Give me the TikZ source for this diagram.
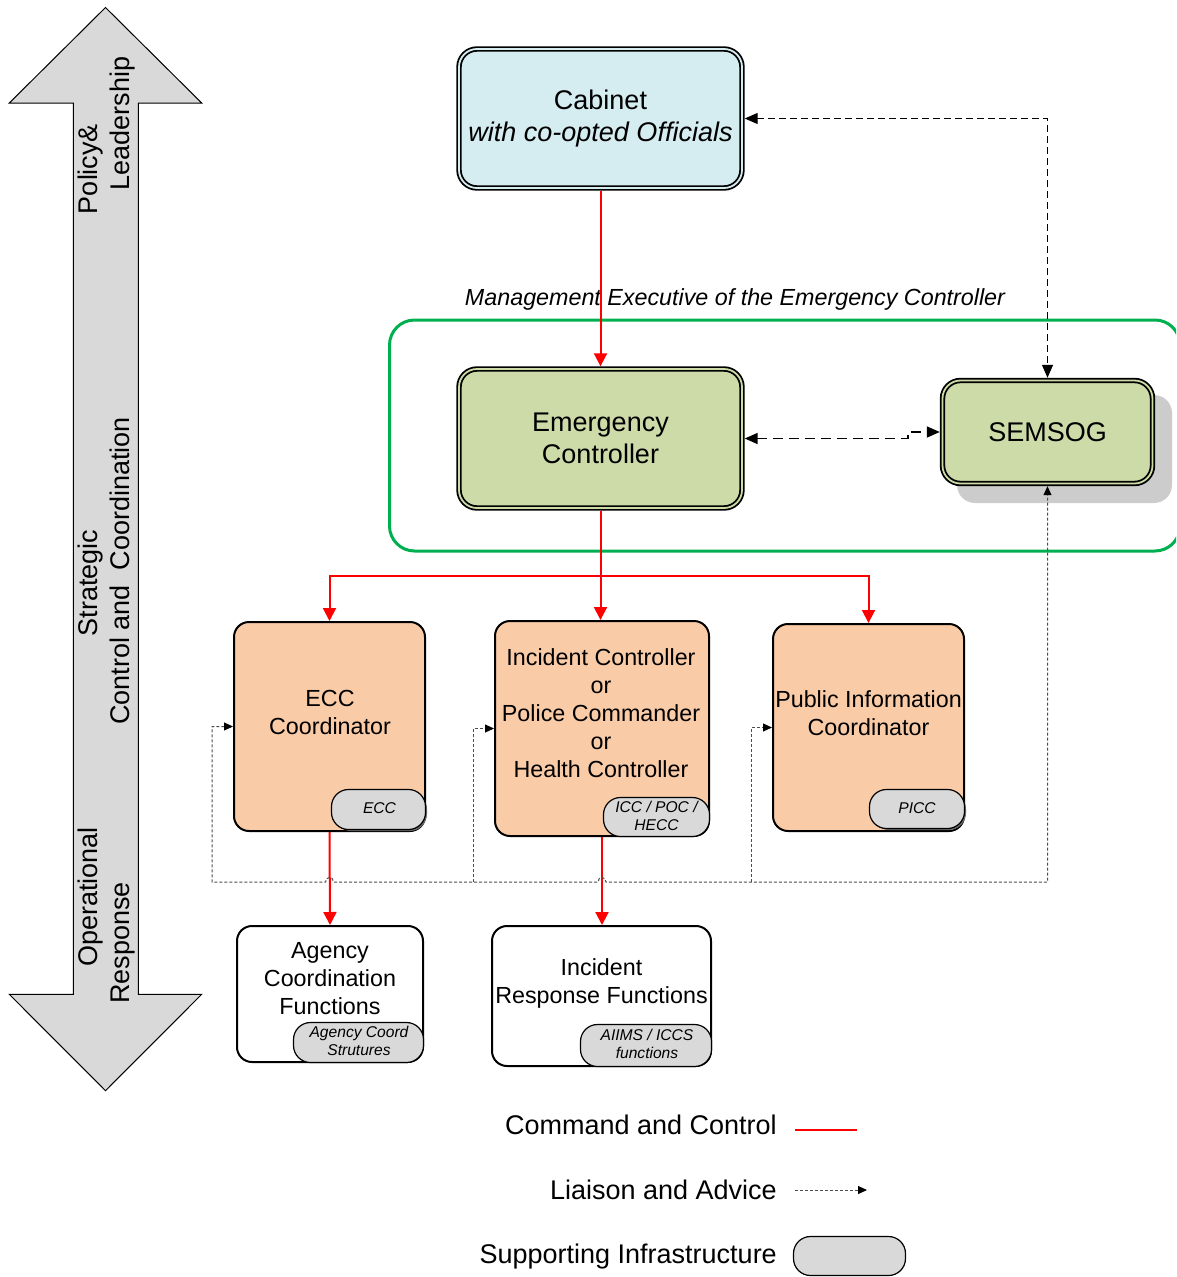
\documentclass[tikz,border=0pt]{standalone}
\usepackage{fontspec}
\setmainfont{Liberation Sans}
\usetikzlibrary{arrows.meta}
\definecolor{cabblue}{HTML}{D5ECF1}
\definecolor{emgreen}{HTML}{CCDBA8}
\definecolor{peach}{HTML}{F9CBA7}
\definecolor{taggray}{HTML}{D9D9D9}
\definecolor{arrowgray}{HTML}{D9D9D9}
\definecolor{mgreen}{HTML}{00B050}
\definecolor{shadowgray}{HTML}{CCCCCC}
\definecolor{dotgray}{HTML}{4D4D4D}
\begin{document}
\begin{tikzpicture}[x=1pt,y=-1pt,
  bigfont/.style={font=\fontsize{27}{32}\selectfont},
  boxfont/.style={font=\fontsize{23.3}{28}\selectfont},
  tagfont/.style={font=\fontsize{15.6}{18.5}\selectfont\itshape},
  dbox/.style={draw=black, line width=1.8pt, double distance=1.8pt, rounded corners=18pt, outer sep=2.7pt, inner sep=0pt, align=center, bigfont},
  pbox/.style={draw=black, line width=2pt, fill=peach, rounded corners=15pt, inner sep=0pt},
  wbox/.style={draw=black, line width=2pt, fill=white, rounded corners=15pt, inner sep=0pt},
  tagbox/.style={draw=black, line width=1.2pt, fill=taggray, rounded corners=17pt, inner sep=0pt},
  lbl/.style={inner sep=0pt, align=center},
  vlbl/.style={inner sep=0pt, bigfont, rotate=90, anchor=base},
  cmd/.style={draw=red, line width=2pt},
  cmdtip/.style={-{Triangle[length=13pt,width=13pt]}},
  cmdtips/.style={{Triangle[length=13pt,width=13pt]}-{Triangle[length=13pt,width=13pt]}},
  liaisonA/.style={draw=black, line width=1.2pt, dash pattern=on 7pt off 4pt, {Triangle[length=13pt,width=11pt]}-{Triangle[length=13pt,width=11pt]}},
  liaisonB/.style={draw=black, line width=1.6pt, dash pattern=on 10pt off 6pt, {Triangle[length=13pt,width=11pt]}-{Triangle[length=13pt,width=11pt]}},
  liai/.style={draw=dotgray, line width=1pt, dash pattern=on 3pt off 2pt},
  liaione/.style={liai, -{Triangle[length=9pt,width=8pt,color=black]}},
  liaiboth/.style={liai, {Triangle[length=9pt,width=8pt,color=black]}-{Triangle[length=9pt,width=8pt,color=black]}}
]
\useasboundingbox (0,0) rectangle (1176,1277);

% left double arrow
\draw[fill=arrowgray, line width=1pt] (105.5,7.5) -- (201.7,103) -- (138.3,103) -- (138.3,994.3) -- (201.7,994.3) -- (105.5,1090.7) -- (9.3,994.3) -- (73.3,994.3) -- (73.3,103) -- (9.3,103) -- cycle;
\node[vlbl] (v1) at (97,169) {Policy\&};
\node[vlbl] (v2) at (129,123.5) {Leadership};
\node[vlbl] (v3) at (97,583) {Strategic};
\node[vlbl] (v4) at (129,571) {Control and~~Coordination};
\node[vlbl] (v5) at (97,897) {Operational};
\node[vlbl] (v6) at (129,943) {Response};

% green management frame
\begin{scope}
\clip (0,0) rectangle (1176,1277);
\draw[mgreen, line width=3pt, rounded corners=25pt] (389.5,320) rectangle (1180,551);
\end{scope}
\node[lbl, font=\fontsize{23.3}{28}\selectfont\itshape, anchor=base] (mgmt) at (735,305.5) {Management Executive of the Emergency Controller};

% top boxes
\node[dbox, fill=cabblue, double=cabblue, minimum width=283pt, minimum height=139pt] (cab) at (600.5,118.5) {Cabinet\\\textit{with co-opted Officials}};
\node[dbox, fill=emgreen, double=emgreen, minimum width=283pt, minimum height=139pt] (emc) at (600.5,438.5) {Emergency\\Controller};
\fill[shadowgray, rounded corners=18pt] (957,395) rectangle (1172,503);
\node[dbox, fill=emgreen, double=emgreen, minimum width=210pt, minimum height=103pt] (sem) at (1047.5,432) {SEMSOG};

% middle boxes
\node[pbox, minimum width=191pt, minimum height=209pt] (ecc) at (329.5,726.5) {};
\node[lbl, boxfont] (ecct) at (330,712.6) {ECC\\Coordinator};
\fill[black!60, rounded corners=17pt] (334,792) rectangle (427,831);
\node[tagbox, minimum width=94pt, minimum height=40pt] (ecctag) at (378.5,809.5) {};
\node[lbl, tagfont] (ecctagt) at (379.5,808.3) {ECC};

\node[pbox, minimum width=214pt, minimum height=215pt] (inc) at (602,728.5) {};
\node[lbl, boxfont] (inct) at (601,713.5) {Incident Controller\\or\\Police Commander\\or\\Health Controller};
\node[tagbox, minimum width=106pt, minimum height=39pt] (inctag) at (656.5,817) {};
\node[lbl, tagfont] (inctagt) at (656.5,815.7) {ICC / POC /\\HECC};

\node[pbox, minimum width=191pt, minimum height=207pt] (pic) at (868.5,727.5) {};
\node[lbl, boxfont] (pict) at (868.5,713.5) {Public Information\\Coordinator};
\fill[black!60, rounded corners=17pt] (872,792) rectangle (966,830);
\node[tagbox, minimum width=95pt, minimum height=39pt] (pictag) at (917,809) {};
\node[lbl, tagfont] (pictagt) at (917,808) {PICC};

% bottom boxes
\node[wbox, minimum width=186pt, minimum height=136pt] (agc) at (330,994) {};
\node[lbl, boxfont] (agct) at (330,978.5) {Agency\\Coordination\\Functions};
\node[tagbox, minimum width=130pt, minimum height=40pt] (agctag) at (358.5,1042.5) {};
\node[lbl, tagfont] (agctagt) at (359,1041) {Agency Coord\\Strutures};

\node[wbox, minimum width=219pt, minimum height=140pt] (irf) at (601.5,996) {};
\node[lbl, boxfont] (irft) at (601.5,983) {Incident\\Response Functions};
\node[tagbox, minimum width=131pt, minimum height=42pt] (irftag) at (646,1045.5) {};
\node[lbl, tagfont] (irftagt) at (647,1044) {AIIMS / ICCS\\functions};

% command and control
\draw[cmd, cmdtip] (cab.south) -- (emc.north);
\coordinate (jm) at (600.5,576);
\draw[cmd, cmdtip] (emc.south) -- (emc.south |- inc.north);
\draw[cmd, cmdtips] (ecc.north) |- (jm) -| (pic.north);
\draw[cmd, cmdtip] (ecc.south) -- (agc.north);
\draw[cmd, cmdtip] (inc.south) -- (inc.south |- irf.north);

% liaison and advice
\draw[liaisonA] (cab.east) -| (sem.north);
\coordinate (jog1) at (908,438.5);
\coordinate (jog2) at (908,432);
\draw[liaisonB] (emc.east) -- (jog1) -- (jog2) -- (sem.west);
\coordinate (lp1) at (212,882);
\coordinate (lp2) at (473,882);
\coordinate (lp3) at (751,882);
\coordinate (lp4) at (1047.5,882);
\draw[liaiboth] (ecc.west) -| (lp1) -- (325.5,882) .. controls (325.5,876) and (333.5,876) .. (333.5,882) -- (598,882) .. controls (598,876) and (606,876) .. (606,882) -- (lp4) -- (sem.south);
\draw[liaione] (lp2) |- (inc.west);
\draw[liaione] (lp3) |- (pic.west);

% legend
\node[lbl, bigfont, anchor=base east] (lg1) at (777,1134) {Command and Control};
\coordinate (l1a) at (795,1130);
\coordinate (l1b) at (857,1130);
\draw[cmd] (l1a) -- (l1b);
\node[lbl, bigfont, anchor=base east] (lg2) at (777,1199) {Liaison and Advice};
\coordinate (l2a) at (795,1190);
\coordinate (l2b) at (867,1190);
\draw[liaione] (l2a) -- (l2b);
\node[lbl, bigfont, anchor=base east] (lg3) at (777,1263) {Supporting Infrastructure};
\node[tagbox, minimum width=112pt, minimum height=39pt] (lg3box) at (849.5,1256) {};
\end{tikzpicture}
\end{document}
